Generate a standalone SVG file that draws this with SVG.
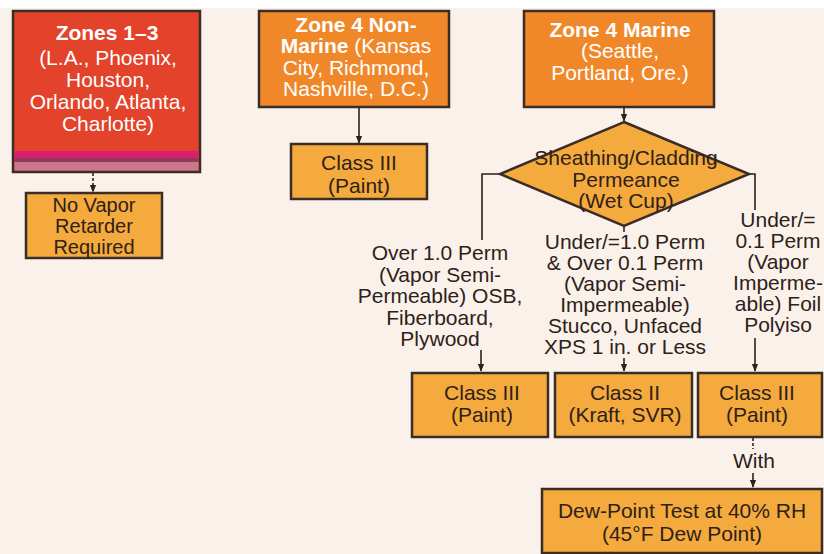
<svg xmlns="http://www.w3.org/2000/svg" width="824" height="554" viewBox="0 0 824 554">
<defs>
<style>
.box{stroke:#3a2c26;stroke-width:2.5}
.red{fill:#e2432a}
.org{fill:#f0882a}
.lt{fill:#f4aa3c}
.t{font-family:"Liberation Sans",Arial,sans-serif;font-size:21px;text-anchor:middle;fill:#2e2119}
.s{font-size:20px}
.w{fill:#ffffff}
.b{font-weight:bold}
.c{fill:none;stroke:#2e2119;stroke-width:1.6}
</style>
<marker id="ah" viewBox="0 0 10 10" refX="9" refY="5" markerWidth="5" markerHeight="5" orient="auto">
<path d="M0,1 L10,5 L0,9 z" fill="#2e2119"/>
</marker>
</defs>
<rect width="824" height="554" fill="#faf2ea"/>
<rect width="824" height="8" fill="#ffffff"/>

<g id="connectors">
<path class="c" d="M93,173 V192" stroke-dasharray="3,2" marker-end="url(#ah)"/>
<path class="c" d="M359,107 V143" marker-end="url(#ah)"/>
<path class="c" d="M624,107 V121" marker-end="url(#ah)"/>
<path class="c" d="M500,174 H482 V240"/>
<path class="c" d="M749,174 H755 V210"/>
<path class="c" d="M624,226 V232"/>
<path class="c" d="M481,350 V371" marker-end="url(#ah)"/>
<path class="c" d="M624,358 V371" marker-end="url(#ah)"/>
<path class="c" d="M755,338 V371" marker-end="url(#ah)"/>
<path class="c" d="M753,438 V449" stroke-dasharray="3,2"/>
<path class="c" d="M753,473 V487" marker-end="url(#ah)"/>
</g>

<g id="zones13">
<rect class="box red" x="13" y="11" width="187" height="161"/>
<rect x="14.5" y="151" width="184" height="7" fill="#d8206e"/>
<rect x="14.5" y="158" width="184" height="4" fill="#8e3a58"/>
<rect x="14.5" y="162" width="184" height="8.5" fill="#c9768f"/>
<text class="t w b" x="107" y="40">Zones 1–3</text>
<text class="t w" x="108" y="65">(L.A., Phoenix,</text>
<text class="t w" x="108" y="87">Houston,</text>
<text class="t w" x="108" y="109">Orlando, Atlanta,</text>
<text class="t w" x="108" y="131">Charlotte)</text>
</g>

<g id="novapor">
<rect class="box lt" x="26" y="193" width="136" height="65"/>
<text class="t s" x="94" y="212">No Vapor</text>
<text class="t s" x="94" y="233">Retarder</text>
<text class="t s" x="94" y="254">Required</text>
</g>

<g id="zone4nm">
<rect class="box org" x="259" y="11" width="190" height="96"/>
<text class="t w b" x="356" y="32">Zone 4 Non-</text>
<text class="t w" x="356" y="53"><tspan class="b">Marine</tspan> (Kansas</text>
<text class="t w" x="356" y="75">City, Richmond,</text>
<text class="t w" x="356" y="96">Nashville, D.C.)</text>
</g>

<g id="class3a">
<rect class="box lt" x="291" y="144" width="136" height="55"/>
<text class="t" x="359" y="170">Class III</text>
<text class="t" x="359" y="193">(Paint)</text>
</g>

<g id="zone4m">
<rect class="box org" x="524" y="11" width="190" height="96"/>
<text class="t w b" x="620" y="37">Zone 4 Marine</text>
<text class="t w" x="620" y="58">(Seattle,</text>
<text class="t w" x="620" y="80">Portland, Ore.)</text>
</g>

<g id="diamond">
<polygon class="box lt" points="624,122 749,174 624,226 500,174" stroke-linejoin="miter" stroke-width="2"/>
<text class="t" x="626" y="165">Sheathing/Cladding</text>
<text class="t" x="626" y="187">Permeance</text>
<text class="t" x="626" y="208">(Wet Cup)</text>
</g>

<g id="label-left">
<text class="t" x="440" y="260">Over 1.0 Perm</text>
<text class="t" x="440" y="282">(Vapor Semi-</text>
<text class="t" x="440" y="303">Permeable) OSB,</text>
<text class="t" x="440" y="325">Fiberboard,</text>
<text class="t" x="440" y="346">Plywood</text>
</g>

<g id="label-mid">
<text class="t" x="625" y="249">Under/=1.0 Perm</text>
<text class="t" x="625" y="270">&amp; Over 0.1 Perm</text>
<text class="t" x="625" y="291">(Vapor Semi-</text>
<text class="t" x="625" y="312">Impermeable)</text>
<text class="t" x="625" y="333">Stucco, Unfaced</text>
<text class="t" x="625" y="354">XPS 1 in. or Less</text>
</g>

<g id="label-right">
<text class="t" x="778" y="227">Under/=</text>
<text class="t" x="778" y="248">0.1 Perm</text>
<text class="t" x="778" y="269">(Vapor</text>
<text class="t" x="778" y="290">Imperme-</text>
<text class="t" x="778" y="311">able) Foil</text>
<text class="t" x="778" y="332">Polyiso</text>
</g>

<g id="class3b">
<rect class="box lt" x="412" y="373" width="136" height="64"/>
<text class="t" x="482" y="400">Class III</text>
<text class="t" x="482" y="422">(Paint)</text>
</g>

<g id="class2">
<rect class="box lt" x="555" y="373" width="137" height="64"/>
<text class="t" x="625" y="400">Class II</text>
<text class="t" x="625" y="422">(Kraft, SVR)</text>
</g>

<g id="class3c">
<rect class="box lt" x="698" y="373" width="124" height="64"/>
<text class="t" x="757" y="400">Class III</text>
<text class="t" x="757" y="422">(Paint)</text>
</g>

<g id="with-label">
<text class="t" x="754" y="468">With</text>
</g>

<g id="dewpoint">
<rect class="box lt" x="542" y="489" width="280" height="64"/>
<text class="t" x="682" y="518">Dew-Point Test at 40% RH</text>
<text class="t" x="682" y="541">(45°F Dew Point)</text>
</g>
</svg>
